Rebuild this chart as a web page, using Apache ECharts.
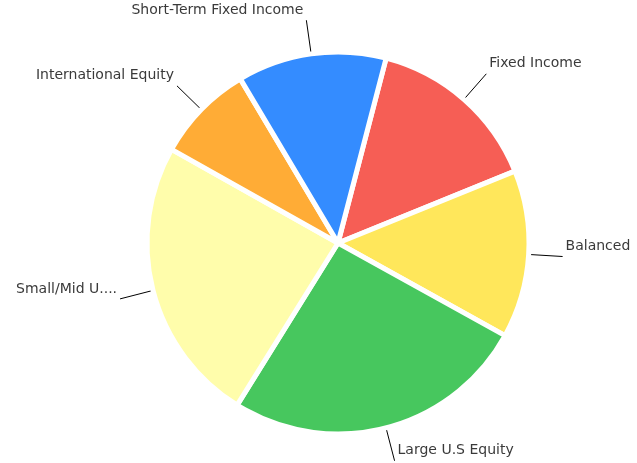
<!DOCTYPE html>
<html>
	<head>
		<meta charset="utf-8">
		<title></title>
		<script src="https://cdn.jsdelivr.net/npm/echarts@6/dist/echarts.min.js"></script>
		<style>html,body{margin:0;padding:0;background:#fff;}</style>
	</head>
	<body>
		<div id="my" style="width: 637px;height: 463px;"></div>
		
		<script>
			var myChart = echarts.init(document.getElementById('my'));
			
			var names = ['Fixed Income', 'Balanced', 'Large U.S Equity', 'Small/Mid U....', 'International Equity', 'Short-Term Fixed Income'];
			var values = [14.8, 14.2, 25.8, 24.3, 8.3, 12.6];
			var colors = ['#f65e55', '#ffe75b', '#47c75e', '#fffdab', '#ffac36', '#348cff'];
			
			var Data = [];
			for (var i = 0; i < names.length; i++) {
				Data.push({name: names[i], value: values[i], itemStyle: {color: colors[i]}});
			}
			
			var option = {
				animation: false,
				series: [
					{
						type: 'pie',
						center: [338, 243],
						radius: 191,
						startAngle: 75.4,
						clockwise: true,
						avoidLabelOverlap: false,
						itemStyle: {
							borderColor: '#fff',
							borderWidth: 5
						},
						label: {
							color: '#3a3a3a',
							fontFamily: 'DejaVu Sans',
							fontSize: 14,
							lineHeight: 20,
							formatter: '{b}\n ',//空行让文字上移
							distanceToLabelLine: 3
						},
						labelLine: {
							length: 34,
							length2: 0,
							lineStyle: {color: '#000', width: 1}
						},
						data: Data
					}
				]
			};
			
			myChart.setOption(option);
		</script>
	</body>
</html>
